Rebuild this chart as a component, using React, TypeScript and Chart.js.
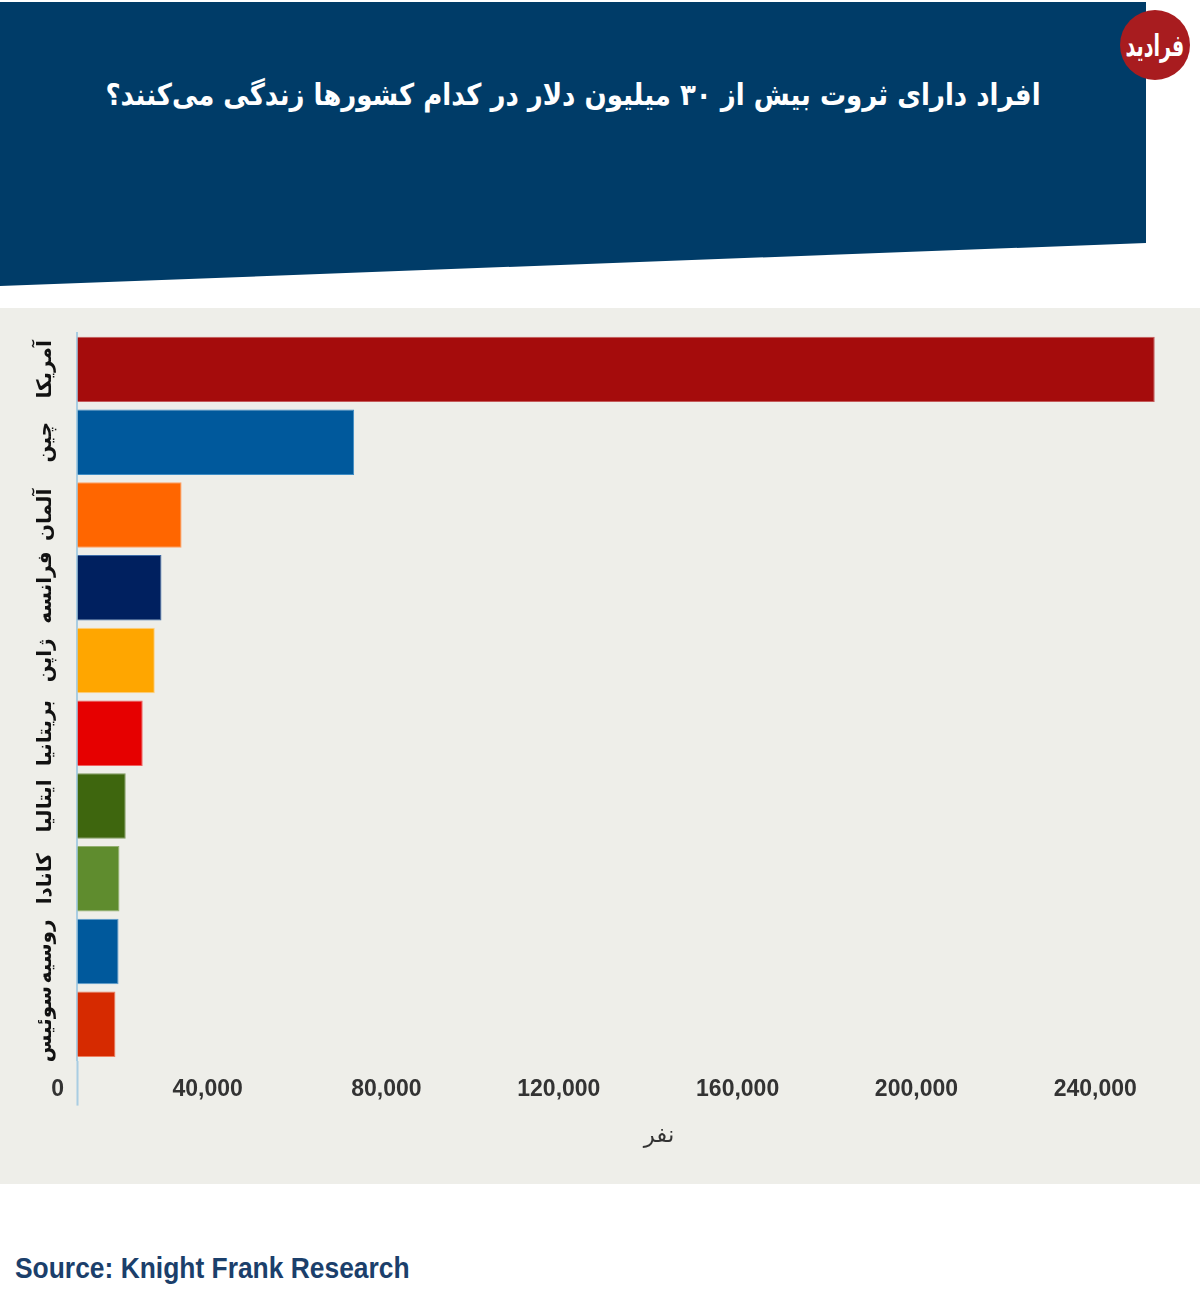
import { useEffect, useRef } from "react";
import { Chart, registerables } from "chart.js";

Chart.register(...registerables);

const countries = ["آمریکا", "چین", "آلمان", "فرانسه", "ژاپن", "بریتانیا", "ایتالیا", "کانادا", "روسیه", "سوئیس"];
const people = [241100, 62000, 23400, 18900, 17400, 14700, 10900, 9500, 9300, 8600];
const tickValues = [0, 40000, 80000, 120000, 160000, 200000, 240000];
const barColors = ["#a50c0c", "#00599c", "#ff6600", "#00205f", "#ffa600", "#e60000", "#3e660e", "#5f8c2e", "#00599c", "#d62a00"];
const edgeColors = ["#c45a5a", "#3d8cc4", "#ffa066", "#3d6ca8", "#ffd080", "#f06060", "#7f9a60", "#93b070", "#5fa0d0", "#ee8060"];

const title = "افراد دارای ثروت بیش از ۳۰ میلیون دلار در کدام کشورها زندگی می‌کنند؟";
const axisTitle = "نفر";
const source = "Source: Knight Frank Research";

const axisBlue = "#a9cde2";

export default function App() {
  const canvasRef = useRef<HTMLCanvasElement | null>(null);

  useEffect(() => {
    if (!canvasRef.current) return;
    const chart = new Chart(canvasRef.current, {
      type: "bar",
      data: {
        labels: countries,
        datasets: [
          {
            data: people,
            backgroundColor: barColors,
            borderColor: edgeColors,
            borderWidth: 1,
            barPercentage: 0.9,
            categoryPercentage: 1,
          },
        ],
      },
      options: {
        indexAxis: "y",
        responsive: false,
        animation: false,
        devicePixelRatio: 1,
        layout: { padding: { top: 25, right: 19, left: 0, bottom: 0 } },
        plugins: { legend: { display: false }, tooltip: { enabled: false } },
        scales: {
          x: {
            type: "linear",
            min: 0,
            max: 260400,
            afterBuildTicks: (scale) => {
              scale.ticks = tickValues.map((value) => ({ value }));
            },
            afterFit: (scale) => {
              scale.height = 123.4;
            },
            border: { display: false },
            grid: {
              drawOnChartArea: false,
              tickLength: 45,
              tickWidth: 2,
              tickColor: (ctx) => (ctx.tick && ctx.tick.value === 0 ? axisBlue : "rgba(0,0,0,0)"),
            },
            ticks: {
              maxRotation: 0,
              minRotation: 0,
              autoSkip: false,
              align: "end",
              labelOffset: -13,
              padding: -30,
              color: "#333333",
              font: { family: "'Liberation Sans'", size: 23, weight: "bold" },
              callback: (value) => Number(value).toLocaleString("en-US"),
            },
            title: {
              display: true,
              text: axisTitle,
              color: "#333333",
              padding: { top: 0, bottom: 34 },
              font: { family: "'DejaVu Sans'", size: 23 },
            },
          },
          y: {
            type: "category",
            afterFit: (scale) => {
              scale.width = 77;
            },
            border: { display: true, color: axisBlue, width: 2 },
            grid: { display: false, drawTicks: false },
            ticks: {
              autoSkip: false,
              minRotation: 90,
              maxRotation: 90,
              crossAlign: "center",
              padding: -7,
              color: "#111111",
              font: { family: "'DejaVu Sans'", size: 20, weight: "bold" },
            },
          },
        },
      },
    });
    return () => chart.destroy();
  }, []);

  return (
    <div style={{ position: "absolute", left: 0, top: 0, width: 1200, height: 1309, overflow: "hidden", background: "#ffffff" }}>
      <div
        style={{
          position: "absolute",
          left: 0,
          top: 0,
          width: 1146,
          height: 286,
          background: "#003c68",
          clipPath: "polygon(0 2px, 100% 2px, 100% 243px, 0 286px)",
        }}
      />
      <div
        dir="rtl"
        style={{
          position: "absolute",
          left: 60,
          top: 74,
          width: 1026,
          textAlign: "center",
          color: "#ffffff",
          fontFamily: "'DejaVu Sans'",
          fontWeight: "bold",
          fontSize: 26,
          lineHeight: "42px",
          whiteSpace: "nowrap",
          transform: "scaleY(1.15)",
        }}
      >
        {title}
      </div>
      <div
        dir="rtl"
        style={{
          position: "absolute",
          left: 1120,
          top: 10,
          width: 70,
          height: 70,
          borderRadius: "50%",
          background: "#a81c1f",
          color: "#ffffff",
          fontFamily: "'DejaVu Sans'",
          fontWeight: "bold",
          fontSize: 20,
          lineHeight: "70px",
          textAlign: "center",
        }}
      >
        <span style={{ display: "inline-block", transform: "scale(0.95, 1.5)" }}>فرادید</span>
      </div>
      <div style={{ position: "absolute", left: 0, top: 308, width: 1200, height: 876, background: "#eeeee9", overflow: "hidden" }}>
        <canvas ref={canvasRef} width={1260} height={876} style={{ display: "block" }} />
      </div>
      <div
        style={{
          position: "absolute",
          left: 15,
          top: 1248,
          color: "#1b3f6b",
          fontFamily: "'Liberation Sans'",
          fontWeight: "bold",
          fontSize: 30,
          lineHeight: "40px",
          whiteSpace: "nowrap",
          transform: "scaleX(0.88)",
          transformOrigin: "left center",
        }}
      >
        {source}
      </div>
    </div>
  );
}
